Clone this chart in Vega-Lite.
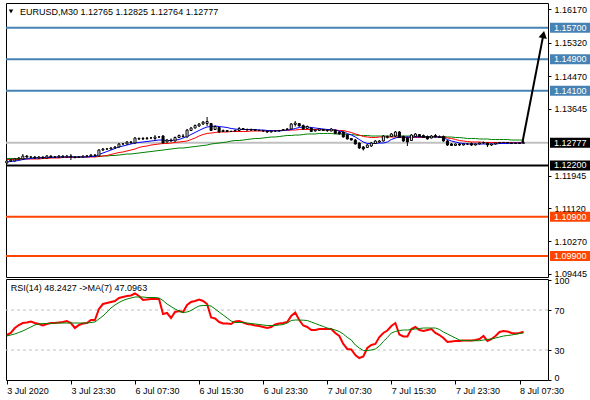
{
  "$schema": "https://vega.github.io/schema/vega-lite/v6.json",
  "background": "white",
  "padding": {"left": 2, "top": 2, "right": 0, "bottom": 0},
  "spacing": 2,
  "bounds": "flush",
  "config": {
    "view": {"stroke": "black", "strokeWidth": 1},
    "font": "Liberation Sans",
    "text": {"font": "Liberation Sans"},
    "scale": {"continuousPadding": 0},
    "axis": {"labelFont": "Liberation Sans", "labelFontSize": 9, "labelColor": "black", "tickColor": "black",
             "domain": false, "grid": false, "labelOverlap": false}
  },
  "datasets": {
    "levels": [
      {"p": 1.157, "k": "res"},
      {"p": 1.149, "k": "res"},
      {"p": 1.141, "k": "res"},
      {"p": 1.122, "k": "pivot"},
      {"p": 1.109, "k": "sup"},
      {"p": 1.099, "k": "sup"},
      {"p": 1.12777, "k": "bid"}
    ],
    "arrow": [
      {"pt": "start", "i": 128.7, "p": 1.12778},
      {"pt": "tip", "i": 133.95, "p": 1.15525}
    ],
    "bars": [
      {"i":0,"o":1.12263,"h":1.12339,"l":1.12238,"c":1.12314,"f":1.12289,"m":1.12352,"s":1.12378,"r":45,"a":44},
      {"i":1,"o":1.12314,"h":1.12365,"l":1.12289,"c":1.12339,"f":1.12301,"m":1.12352,"s":1.12378,"r":47,"a":45},
      {"i":2,"o":1.12314,"h":1.12390,"l":1.12301,"c":1.12365,"f":1.12314,"m":1.12352,"s":1.12378,"r":52,"a":46},
      {"i":3,"o":1.12365,"h":1.12416,"l":1.12339,"c":1.12390,"f":1.12327,"m":1.12352,"s":1.12378,"r":55,"a":47.5},
      {"i":4,"o":1.12365,"h":1.12492,"l":1.12339,"c":1.12441,"f":1.12352,"m":1.12365,"s":1.12378,"r":57,"a":49},
      {"i":5,"o":1.12441,"h":1.12466,"l":1.12390,"c":1.12416,"f":1.12365,"m":1.12365,"s":1.12378,"r":57.5,"a":51},
      {"i":6,"o":1.12416,"h":1.12441,"l":1.12390,"c":1.12416,"f":1.12378,"m":1.12365,"s":1.12390,"r":58.5,"a":53},
      {"i":7,"o":1.12416,"h":1.12441,"l":1.12365,"c":1.12390,"f":1.12390,"m":1.12365,"s":1.12390,"r":57,"a":55},
      {"i":8,"o":1.12390,"h":1.12441,"l":1.12365,"c":1.12416,"f":1.12390,"m":1.12365,"s":1.12390,"r":56,"a":56},
      {"i":9,"o":1.12416,"h":1.12428,"l":1.12365,"c":1.12390,"f":1.12403,"m":1.12378,"s":1.12390,"r":54.5,"a":56.5},
      {"i":10,"o":1.12390,"h":1.12466,"l":1.12365,"c":1.12441,"f":1.12403,"m":1.12378,"s":1.12390,"r":56,"a":56.5},
      {"i":11,"o":1.12441,"h":1.12454,"l":1.12390,"c":1.12416,"f":1.12403,"m":1.12390,"s":1.12403,"r":57,"a":56.5},
      {"i":12,"o":1.12416,"h":1.12441,"l":1.12390,"c":1.12418,"f":1.12416,"m":1.12390,"s":1.12403,"r":57,"a":57},
      {"i":13,"o":1.12416,"h":1.12466,"l":1.12403,"c":1.12441,"f":1.12416,"m":1.12390,"s":1.12403,"r":57.5,"a":57},
      {"i":14,"o":1.12441,"h":1.12454,"l":1.12390,"c":1.12416,"f":1.12416,"m":1.12403,"s":1.12403,"r":58,"a":57},
      {"i":15,"o":1.12416,"h":1.12466,"l":1.12390,"c":1.12441,"f":1.12416,"m":1.12403,"s":1.12403,"r":59,"a":57},
      {"i":16,"o":1.12441,"h":1.12492,"l":1.12339,"c":1.12416,"f":1.12416,"m":1.12403,"s":1.12416,"r":57,"a":57},
      {"i":17,"o":1.12416,"h":1.12441,"l":1.12378,"c":1.12403,"f":1.12416,"m":1.12403,"s":1.12416,"r":52,"a":57},
      {"i":18,"o":1.12403,"h":1.12441,"l":1.12390,"c":1.12416,"f":1.12416,"m":1.12416,"s":1.12416,"r":55,"a":57},
      {"i":19,"o":1.12416,"h":1.12454,"l":1.12403,"c":1.12441,"f":1.12416,"m":1.12416,"s":1.12416,"r":56.5,"a":57},
      {"i":20,"o":1.12441,"h":1.12466,"l":1.12416,"c":1.12443,"f":1.12416,"m":1.12416,"s":1.12416,"r":57,"a":57},
      {"i":21,"o":1.12441,"h":1.12492,"l":1.12416,"c":1.12466,"f":1.12428,"m":1.12416,"s":1.12428,"r":60,"a":57.5},
      {"i":22,"o":1.12466,"h":1.12492,"l":1.12428,"c":1.12454,"f":1.12428,"m":1.12416,"s":1.12428,"r":60,"a":58},
      {"i":23,"o":1.12441,"h":1.12619,"l":1.12428,"c":1.12593,"f":1.12479,"m":1.12428,"s":1.12428,"r":71,"a":61},
      {"i":24,"o":1.12593,"h":1.12644,"l":1.12568,"c":1.12619,"f":1.12517,"m":1.12441,"s":1.12441,"r":76,"a":64},
      {"i":25,"o":1.12619,"h":1.12644,"l":1.12593,"c":1.12621,"f":1.12555,"m":1.12454,"s":1.12441,"r":77,"a":68},
      {"i":26,"o":1.12619,"h":1.12670,"l":1.12606,"c":1.12644,"f":1.12593,"m":1.12479,"s":1.12454,"r":78,"a":72},
      {"i":27,"o":1.12644,"h":1.12695,"l":1.12632,"c":1.12670,"f":1.12632,"m":1.12505,"s":1.12454,"r":79,"a":75},
      {"i":28,"o":1.12670,"h":1.12771,"l":1.12657,"c":1.12746,"f":1.12670,"m":1.12530,"s":1.12466,"r":82,"a":77.5},
      {"i":29,"o":1.12746,"h":1.12771,"l":1.12720,"c":1.12748,"f":1.12695,"m":1.12543,"s":1.12479,"r":83,"a":79.5},
      {"i":30,"o":1.12746,"h":1.12822,"l":1.12733,"c":1.12797,"f":1.12720,"m":1.12568,"s":1.12492,"r":84,"a":81},
      {"i":31,"o":1.12784,"h":1.12822,"l":1.12746,"c":1.12797,"f":1.12746,"m":1.12593,"s":1.12492,"r":84.5,"a":82},
      {"i":32,"o":1.12771,"h":1.12924,"l":1.12758,"c":1.12898,"f":1.12771,"m":1.12619,"s":1.12505,"r":86.5,"a":83},
      {"i":33,"o":1.12886,"h":1.12911,"l":1.12847,"c":1.12873,"f":1.12784,"m":1.12657,"s":1.12517,"r":84,"a":83},
      {"i":34,"o":1.12873,"h":1.12924,"l":1.12847,"c":1.12886,"f":1.12797,"m":1.12682,"s":1.12530,"r":80,"a":83},
      {"i":35,"o":1.12886,"h":1.12924,"l":1.12847,"c":1.12898,"f":1.12809,"m":1.12695,"s":1.12543,"r":80.5,"a":82.5},
      {"i":36,"o":1.12898,"h":1.12924,"l":1.12873,"c":1.12900,"f":1.12822,"m":1.12720,"s":1.12555,"r":81,"a":82.5},
      {"i":37,"o":1.12886,"h":1.12974,"l":1.12822,"c":1.12924,"f":1.12835,"m":1.12733,"s":1.12568,"r":81,"a":82.5},
      {"i":38,"o":1.12924,"h":1.12949,"l":1.12898,"c":1.12926,"f":1.12847,"m":1.12746,"s":1.12581,"r":81,"a":82},
      {"i":39,"o":1.12949,"h":1.12974,"l":1.12758,"c":1.12771,"f":1.12847,"m":1.12758,"s":1.12593,"r":66,"a":79.5},
      {"i":40,"o":1.12797,"h":1.12873,"l":1.12784,"c":1.12847,"f":1.12835,"m":1.12758,"s":1.12606,"r":67,"a":76},
      {"i":41,"o":1.12847,"h":1.12886,"l":1.12809,"c":1.12822,"f":1.12835,"m":1.12771,"s":1.12619,"r":62,"a":73.5},
      {"i":42,"o":1.12822,"h":1.12936,"l":1.12809,"c":1.12911,"f":1.12847,"m":1.12784,"s":1.12632,"r":68,"a":71},
      {"i":43,"o":1.12911,"h":1.12987,"l":1.12898,"c":1.12962,"f":1.12860,"m":1.12797,"s":1.12644,"r":69,"a":69},
      {"i":44,"o":1.12949,"h":1.13000,"l":1.12911,"c":1.12936,"f":1.12898,"m":1.12809,"s":1.12644,"r":68,"a":67.5},
      {"i":45,"o":1.12924,"h":1.13127,"l":1.12911,"c":1.13101,"f":1.12936,"m":1.12822,"s":1.12657,"r":75,"a":68},
      {"i":46,"o":1.13089,"h":1.13178,"l":1.13076,"c":1.13152,"f":1.12987,"m":1.12860,"s":1.12670,"r":78,"a":69.5},
      {"i":47,"o":1.13152,"h":1.13241,"l":1.13139,"c":1.13215,"f":1.13038,"m":1.12898,"s":1.12682,"r":79,"a":72},
      {"i":48,"o":1.13203,"h":1.13279,"l":1.13178,"c":1.13254,"f":1.13089,"m":1.12949,"s":1.12695,"r":80.5,"a":74},
      {"i":49,"o":1.13254,"h":1.13330,"l":1.13228,"c":1.13305,"f":1.13139,"m":1.12987,"s":1.12708,"r":79,"a":74.5},
      {"i":50,"o":1.13266,"h":1.13432,"l":1.13203,"c":1.13317,"f":1.13178,"m":1.13013,"s":1.12720,"r":76,"a":74.5},
      {"i":51,"o":1.13266,"h":1.13279,"l":1.13076,"c":1.13089,"f":1.13190,"m":1.13025,"s":1.12746,"r":62.6,"a":74},
      {"i":52,"o":1.13114,"h":1.13215,"l":1.13101,"c":1.13190,"f":1.13203,"m":1.13038,"s":1.12758,"r":61.5,"a":71},
      {"i":53,"o":1.13165,"h":1.13178,"l":1.13025,"c":1.13051,"f":1.13190,"m":1.13051,"s":1.12771,"r":58,"a":68},
      {"i":54,"o":1.13063,"h":1.13114,"l":1.13051,"c":1.13089,"f":1.13178,"m":1.13051,"s":1.12784,"r":56.6,"a":65},
      {"i":55,"o":1.13089,"h":1.13101,"l":1.13051,"c":1.13063,"f":1.13165,"m":1.13051,"s":1.12797,"r":56.5,"a":62},
      {"i":56,"o":1.13063,"h":1.13089,"l":1.13051,"c":1.13065,"f":1.13139,"m":1.13063,"s":1.12822,"r":56,"a":59},
      {"i":57,"o":1.13076,"h":1.13114,"l":1.13063,"c":1.13089,"f":1.13127,"m":1.13063,"s":1.12835,"r":58.5,"a":57.5},
      {"i":58,"o":1.13089,"h":1.13178,"l":1.13063,"c":1.13139,"f":1.13114,"m":1.13063,"s":1.12835,"r":59,"a":57.5},
      {"i":59,"o":1.13139,"h":1.13152,"l":1.13101,"c":1.13114,"f":1.13114,"m":1.13063,"s":1.12847,"r":57.5,"a":57.5},
      {"i":60,"o":1.13114,"h":1.13139,"l":1.13089,"c":1.13101,"f":1.13114,"m":1.13063,"s":1.12860,"r":56,"a":57},
      {"i":61,"o":1.13101,"h":1.13139,"l":1.13076,"c":1.13114,"f":1.13114,"m":1.13076,"s":1.12873,"r":55.5,"a":56.5},
      {"i":62,"o":1.13114,"h":1.13127,"l":1.13076,"c":1.13089,"f":1.13114,"m":1.13076,"s":1.12886,"r":54.5,"a":56},
      {"i":63,"o":1.13089,"h":1.13114,"l":1.13076,"c":1.13091,"f":1.13101,"m":1.13076,"s":1.12886,"r":54,"a":55.5},
      {"i":64,"o":1.13089,"h":1.13101,"l":1.13051,"c":1.13076,"f":1.13101,"m":1.13076,"s":1.12898,"r":53,"a":55},
      {"i":65,"o":1.13076,"h":1.13089,"l":1.13025,"c":1.13051,"f":1.13089,"m":1.13076,"s":1.12911,"r":52,"a":54.5},
      {"i":66,"o":1.13051,"h":1.13089,"l":1.13038,"c":1.13076,"f":1.13089,"m":1.13076,"s":1.12924,"r":53,"a":54.5},
      {"i":67,"o":1.13076,"h":1.13089,"l":1.13051,"c":1.13078,"f":1.13076,"m":1.13089,"s":1.12924,"r":55.5,"a":54.5},
      {"i":68,"o":1.13076,"h":1.13101,"l":1.13063,"c":1.13089,"f":1.13076,"m":1.13089,"s":1.12936,"r":56.5,"a":55},
      {"i":69,"o":1.13089,"h":1.13127,"l":1.13076,"c":1.13114,"f":1.13089,"m":1.13089,"s":1.12949,"r":57,"a":55.5},
      {"i":70,"o":1.13114,"h":1.13152,"l":1.13101,"c":1.13127,"f":1.13101,"m":1.13089,"s":1.12962,"r":58,"a":57},
      {"i":71,"o":1.13127,"h":1.13279,"l":1.13114,"c":1.13254,"f":1.13114,"m":1.13101,"s":1.12962,"r":64,"a":59.5},
      {"i":72,"o":1.13241,"h":1.13330,"l":1.13190,"c":1.13279,"f":1.13139,"m":1.13101,"s":1.12974,"r":67.5,"a":60},
      {"i":73,"o":1.13266,"h":1.13279,"l":1.13190,"c":1.13203,"f":1.13165,"m":1.13114,"s":1.12974,"r":60,"a":60},
      {"i":74,"o":1.13215,"h":1.13241,"l":1.13101,"c":1.13127,"f":1.13178,"m":1.13114,"s":1.12987,"r":54.5,"a":59.8},
      {"i":75,"o":1.13139,"h":1.13215,"l":1.13127,"c":1.13190,"f":1.13178,"m":1.13114,"s":1.13000,"r":53,"a":59.5},
      {"i":76,"o":1.13152,"h":1.13165,"l":1.13051,"c":1.13063,"f":1.13165,"m":1.13114,"s":1.13000,"r":50,"a":58},
      {"i":77,"o":1.13076,"h":1.13127,"l":1.13063,"c":1.13101,"f":1.13152,"m":1.13114,"s":1.13000,"r":50,"a":56.5},
      {"i":78,"o":1.13089,"h":1.13152,"l":1.13076,"c":1.13127,"f":1.13139,"m":1.13114,"s":1.13013,"r":51,"a":55},
      {"i":79,"o":1.13114,"h":1.13127,"l":1.13076,"c":1.13089,"f":1.13127,"m":1.13101,"s":1.13013,"r":51,"a":53.5},
      {"i":80,"o":1.13101,"h":1.13127,"l":1.13051,"c":1.13089,"f":1.13114,"m":1.13101,"s":1.13013,"r":51,"a":52},
      {"i":81,"o":1.13076,"h":1.13152,"l":1.13070,"c":1.13127,"f":1.13114,"m":1.13101,"s":1.13013,"r":51,"a":51},
      {"i":82,"o":1.13101,"h":1.13110,"l":1.13000,"c":1.13013,"f":1.13101,"m":1.13101,"s":1.13000,"r":47,"a":50},
      {"i":83,"o":1.13051,"h":1.13076,"l":1.12987,"c":1.13000,"f":1.13076,"m":1.13089,"s":1.13000,"r":44,"a":48.5},
      {"i":84,"o":1.13051,"h":1.13063,"l":1.12911,"c":1.12924,"f":1.13051,"m":1.13089,"s":1.13000,"r":36,"a":46},
      {"i":85,"o":1.12974,"h":1.12987,"l":1.12860,"c":1.12873,"f":1.13013,"m":1.13063,"s":1.12987,"r":31,"a":42.6},
      {"i":86,"o":1.12886,"h":1.12898,"l":1.12835,"c":1.12847,"f":1.12974,"m":1.13038,"s":1.12987,"r":30.5,"a":40},
      {"i":87,"o":1.12847,"h":1.12873,"l":1.12733,"c":1.12746,"f":1.12924,"m":1.13000,"s":1.12974,"r":25,"a":35},
      {"i":88,"o":1.12771,"h":1.12784,"l":1.12619,"c":1.12644,"f":1.12860,"m":1.12974,"s":1.12962,"r":22,"a":32},
      {"i":89,"o":1.12670,"h":1.12695,"l":1.12581,"c":1.12619,"f":1.12797,"m":1.12936,"s":1.12962,"r":23.5,"a":29.5},
      {"i":90,"o":1.12657,"h":1.12746,"l":1.12644,"c":1.12720,"f":1.12758,"m":1.12924,"s":1.12962,"r":32,"a":29.5},
      {"i":91,"o":1.12695,"h":1.12797,"l":1.12670,"c":1.12771,"f":1.12758,"m":1.12911,"s":1.12949,"r":35,"a":30},
      {"i":92,"o":1.12758,"h":1.12847,"l":1.12746,"c":1.12822,"f":1.12758,"m":1.12911,"s":1.12949,"r":36,"a":31},
      {"i":93,"o":1.12797,"h":1.12847,"l":1.12771,"c":1.12822,"f":1.12771,"m":1.12924,"s":1.12949,"r":43,"a":34},
      {"i":94,"o":1.12822,"h":1.12974,"l":1.12809,"c":1.12949,"f":1.12771,"m":1.12924,"s":1.12949,"r":47,"a":38.5},
      {"i":95,"o":1.12911,"h":1.12962,"l":1.12886,"c":1.12936,"f":1.12797,"m":1.12924,"s":1.12949,"r":49.5,"a":42.5},
      {"i":96,"o":1.12936,"h":1.13025,"l":1.12924,"c":1.13000,"f":1.12860,"m":1.12924,"s":1.12949,"r":54,"a":47},
      {"i":97,"o":1.12949,"h":1.13076,"l":1.12924,"c":1.13051,"f":1.12898,"m":1.12924,"s":1.12949,"r":57,"a":48.5},
      {"i":98,"o":1.13051,"h":1.13076,"l":1.12898,"c":1.12911,"f":1.12924,"m":1.12911,"s":1.12949,"r":45.5,"a":49.5},
      {"i":99,"o":1.12936,"h":1.12962,"l":1.12797,"c":1.12822,"f":1.12924,"m":1.12911,"s":1.12949,"r":43.5,"a":50},
      {"i":100,"o":1.12898,"h":1.12936,"l":1.12695,"c":1.12797,"f":1.12924,"m":1.12911,"s":1.12949,"r":43.5,"a":50},
      {"i":101,"o":1.12835,"h":1.13000,"l":1.12822,"c":1.12974,"f":1.12924,"m":1.12911,"s":1.12949,"r":51,"a":50.5},
      {"i":102,"o":1.12936,"h":1.13025,"l":1.12924,"c":1.13000,"f":1.12924,"m":1.12911,"s":1.12949,"r":53,"a":51},
      {"i":103,"o":1.12987,"h":1.13000,"l":1.12924,"c":1.12936,"f":1.12924,"m":1.12911,"s":1.12936,"r":50,"a":51.5},
      {"i":104,"o":1.12962,"h":1.12987,"l":1.12898,"c":1.12911,"f":1.12924,"m":1.12911,"s":1.12936,"r":49,"a":52},
      {"i":105,"o":1.12936,"h":1.12962,"l":1.12860,"c":1.12873,"f":1.12924,"m":1.12911,"s":1.12936,"r":50,"a":52},
      {"i":106,"o":1.12898,"h":1.12974,"l":1.12886,"c":1.12949,"f":1.12924,"m":1.12924,"s":1.12936,"r":51,"a":52},
      {"i":107,"o":1.12962,"h":1.13000,"l":1.12911,"c":1.12924,"f":1.12924,"m":1.12924,"s":1.12936,"r":47,"a":52},
      {"i":108,"o":1.12924,"h":1.12962,"l":1.12898,"c":1.12911,"f":1.12924,"m":1.12924,"s":1.12936,"r":45,"a":50.5},
      {"i":109,"o":1.12936,"h":1.12962,"l":1.12809,"c":1.12822,"f":1.12898,"m":1.12924,"s":1.12936,"r":42,"a":48},
      {"i":110,"o":1.12822,"h":1.12847,"l":1.12695,"c":1.12720,"f":1.12860,"m":1.12898,"s":1.12924,"r":38,"a":46},
      {"i":111,"o":1.12746,"h":1.12771,"l":1.12695,"c":1.12708,"f":1.12822,"m":1.12886,"s":1.12924,"r":38.5,"a":44},
      {"i":112,"o":1.12708,"h":1.12758,"l":1.12700,"c":1.12746,"f":1.12797,"m":1.12860,"s":1.12911,"r":39,"a":42},
      {"i":113,"o":1.12746,"h":1.12771,"l":1.12695,"c":1.12720,"f":1.12771,"m":1.12835,"s":1.12911,"r":39,"a":40},
      {"i":114,"o":1.12720,"h":1.12758,"l":1.12708,"c":1.12746,"f":1.12758,"m":1.12822,"s":1.12898,"r":39.5,"a":39.5},
      {"i":115,"o":1.12746,"h":1.12771,"l":1.12720,"c":1.12748,"f":1.12746,"m":1.12809,"s":1.12886,"r":39.5,"a":39.3},
      {"i":116,"o":1.12758,"h":1.12784,"l":1.12695,"c":1.12720,"f":1.12746,"m":1.12797,"s":1.12886,"r":39.5,"a":39.3},
      {"i":117,"o":1.12720,"h":1.12758,"l":1.12708,"c":1.12746,"f":1.12746,"m":1.12797,"s":1.12886,"r":40,"a":39.3},
      {"i":118,"o":1.12746,"h":1.12784,"l":1.12733,"c":1.12771,"f":1.12746,"m":1.12797,"s":1.12873,"r":41,"a":39.3},
      {"i":119,"o":1.12771,"h":1.12809,"l":1.12746,"c":1.12784,"f":1.12746,"m":1.12784,"s":1.12873,"r":44,"a":40},
      {"i":120,"o":1.12771,"h":1.12797,"l":1.12670,"c":1.12720,"f":1.12746,"m":1.12784,"s":1.12873,"r":39,"a":40.5},
      {"i":121,"o":1.12720,"h":1.12758,"l":1.12695,"c":1.12746,"f":1.12746,"m":1.12784,"s":1.12860,"r":41,"a":41},
      {"i":122,"o":1.12746,"h":1.12784,"l":1.12733,"c":1.12771,"f":1.12746,"m":1.12784,"s":1.12860,"r":44,"a":42},
      {"i":123,"o":1.12771,"h":1.12797,"l":1.12746,"c":1.12784,"f":1.12758,"m":1.12784,"s":1.12860,"r":48,"a":43},
      {"i":124,"o":1.12784,"h":1.12797,"l":1.12758,"c":1.12786,"f":1.12758,"m":1.12784,"s":1.12860,"r":49,"a":44},
      {"i":125,"o":1.12784,"h":1.12797,"l":1.12758,"c":1.12771,"f":1.12758,"m":1.12784,"s":1.12860,"r":48.5,"a":44.5},
      {"i":126,"o":1.12771,"h":1.12797,"l":1.12746,"c":1.12758,"f":1.12771,"m":1.12784,"s":1.12847,"r":47,"a":45},
      {"i":127,"o":1.12758,"h":1.12784,"l":1.12746,"c":1.12771,"f":1.12771,"m":1.12784,"s":1.12847,"r":46.5,"a":45.8},
      {"i":128,"o":1.12771,"h":1.12784,"l":1.12746,"c":1.12758,"f":1.12771,"m":1.12784,"s":1.12847,"r":47,"a":46.5},
      {"i":129,"o":1.12765,"h":1.12825,"l":1.12764,"c":1.12777,"f":1.12771,"m":1.12784,"s":1.12847,"r":48.2427,"a":47.0963}
    ]
  },
  "vconcat": [
    {
      "width": 542,
      "height": 274,
      "layer": [
        {
          "data": {"name": "levels"},
          "mark": {"type": "rule"},
          "encoding": {
            "y": {"field": "p", "type": "quantitative",
                  "scale": {"domain": [1.09368, 1.16327], "nice": false, "zero": false, "padding": 0},
                  "axis": {"orient": "right", "values": [1.1617, 1.1532, 1.1447, 1.13645, 1.11945, 1.1112, 1.1027, 1.09445], "format": ".5f", "title": null, "tickSize": 3, "labelPadding": 3, "zindex": 0, "labelFlush": false}},
            "stroke": {"field": "k", "type": "nominal",
                       "scale": {"domain": ["res", "pivot", "sup", "bid"], "range": ["#4682B4", "#000000", "#FF4500", "#C0C0C0"]},
                       "legend": null},
            "strokeWidth": {"field": "k", "type": "nominal",
                            "scale": {"domain": ["res", "pivot", "sup", "bid"], "range": [2, 2, 2, 1]},
                            "legend": null}
          }
        },
        {
          "data": {"name": "bars"},
          "mark": {"type": "line", "stroke": "#008000", "strokeWidth": 1},
          "encoding": {
            "x": {"field": "i", "type": "quantitative", "scale": {"domain": [-0.2, 135.1], "nice": false, "zero": false, "padding": 0}, "axis": null},
            "y": {"field": "s", "type": "quantitative", "axis": {"orient": "right", "values": [1.1617, 1.1532, 1.1447, 1.13645, 1.11945, 1.1112, 1.1027, 1.09445], "format": ".5f", "title": null, "tickSize": 3, "labelPadding": 3, "zindex": 0, "labelFlush": false}}
          }
        },
        {
          "data": {"name": "bars"},
          "mark": {"type": "line", "stroke": "#FF0000", "strokeWidth": 1},
          "encoding": {
            "x": {"field": "i", "type": "quantitative", "axis": null},
            "y": {"field": "m", "type": "quantitative", "axis": {"orient": "right", "values": [1.1617, 1.1532, 1.1447, 1.13645, 1.11945, 1.1112, 1.1027, 1.09445], "format": ".5f", "title": null, "tickSize": 3, "labelPadding": 3, "zindex": 0, "labelFlush": false}}
          }
        },
        {
          "data": {"name": "bars"},
          "mark": {"type": "line", "stroke": "#0000FF", "strokeWidth": 1},
          "encoding": {
            "x": {"field": "i", "type": "quantitative", "axis": null},
            "y": {"field": "f", "type": "quantitative", "axis": {"orient": "right", "values": [1.1617, 1.1532, 1.1447, 1.13645, 1.11945, 1.1112, 1.1027, 1.09445], "format": ".5f", "title": null, "tickSize": 3, "labelPadding": 3, "zindex": 0, "labelFlush": false}}
          }
        },
        {
          "data": {"name": "bars"},
          "mark": {"type": "rule", "stroke": "black", "strokeWidth": 1},
          "encoding": {
            "x": {"field": "i", "type": "quantitative", "axis": null},
            "y": {"field": "h", "type": "quantitative", "axis": {"orient": "right", "values": [1.1617, 1.1532, 1.1447, 1.13645, 1.11945, 1.1112, 1.1027, 1.09445], "format": ".5f", "title": null, "tickSize": 3, "labelPadding": 3, "zindex": 0, "labelFlush": false}},
            "y2": {"field": "l"}
          }
        },
        {
          "data": {"name": "bars"},
          "mark": {"type": "bar", "size": 2, "stroke": "black", "strokeWidth": 1},
          "encoding": {
            "x": {"field": "i", "type": "quantitative", "axis": null},
            "y": {"field": "o", "type": "quantitative", "axis": {"orient": "right", "values": [1.1617, 1.1532, 1.1447, 1.13645, 1.11945, 1.1112, 1.1027, 1.09445], "format": ".5f", "title": null, "tickSize": 3, "labelPadding": 3, "zindex": 0, "labelFlush": false}},
            "y2": {"field": "c"},
            "fill": {"condition": {"test": "datum.c >= datum.o", "value": "white"}, "value": "black"}
          }
        },
        {
          "data": {"name": "arrow"},
          "mark": {"type": "line", "stroke": "black", "strokeWidth": 2},
          "encoding": {
            "x": {"field": "i", "type": "quantitative", "axis": null},
            "y": {"field": "p", "type": "quantitative", "axis": {"orient": "right", "values": [1.1617, 1.1532, 1.1447, 1.13645, 1.11945, 1.1112, 1.1027, 1.09445], "format": ".5f", "title": null, "tickSize": 3, "labelPadding": 3, "zindex": 0, "labelFlush": false}}
          }
        },
        {
          "data": {"name": "arrow"},
          "transform": [{"filter": "datum.pt == 'tip'"}],
          "mark": {"type": "point", "shape": "triangle-up", "angle": 11, "size": 70, "filled": true, "color": "black", "opacity": 1},
          "encoding": {
            "x": {"field": "i", "type": "quantitative", "axis": null},
            "y": {"field": "p", "type": "quantitative", "axis": {"orient": "right", "values": [1.1617, 1.1532, 1.1447, 1.13645, 1.11945, 1.1112, 1.1027, 1.09445], "format": ".5f", "title": null, "tickSize": 3, "labelPadding": 3, "zindex": 0, "labelFlush": false}}
          }
        },
        {
          "data": {"name": "levels"},
          "mark": {"type": "bar", "orient": "horizontal", "size": 10},
          "encoding": {
            "x": {"datum": 135.6, "type": "quantitative", "axis": null},
            "x2": {"datum": 146.5},
            "y": {"field": "p", "type": "quantitative", "axis": {"orient": "right", "values": [1.1617, 1.1532, 1.1447, 1.13645, 1.11945, 1.1112, 1.1027, 1.09445], "format": ".5f", "title": null, "tickSize": 3, "labelPadding": 3, "zindex": 0, "labelFlush": false}},
            "fill": {"field": "k", "type": "nominal",
                     "scale": {"domain": ["res", "pivot", "sup", "bid"], "range": ["#4682B4", "#000000", "#FF4500", "#000000"]},
                     "legend": null}
          }
        },
        {
          "data": {"name": "levels"},
          "mark": {"type": "text", "align": "left", "baseline": "middle", "color": "white", "fontSize": 9, "font": "Liberation Sans"},
          "encoding": {
            "x": {"datum": 136.6, "type": "quantitative", "axis": null},
            "y": {"field": "p", "type": "quantitative", "axis": {"orient": "right", "values": [1.1617, 1.1532, 1.1447, 1.13645, 1.11945, 1.1112, 1.1027, 1.09445], "format": ".5f", "title": null, "tickSize": 3, "labelPadding": 3, "zindex": 0, "labelFlush": false}},
            "text": {"field": "p", "type": "quantitative", "format": ".5f"}
          }
        },
        {
          "data": {"values": [{"sym": "menu"}]},
          "mark": {"type": "point", "shape": "triangle-down", "size": 20, "filled": true, "color": "black", "opacity": 1},
          "encoding": {
            "x": {"datum": 1.05, "type": "quantitative", "axis": null},
            "y": {"datum": 1.16111, "type": "quantitative", "axis": {"orient": "right", "values": [1.1617, 1.1532, 1.1447, 1.13645, 1.11945, 1.1112, 1.1027, 1.09445], "format": ".5f", "title": null, "tickSize": 3, "labelPadding": 3, "zindex": 0, "labelFlush": false}}
          }
        },
        {
          "data": {"values": [{"label": "EURUSD,M30  1.12765 1.12825 1.12764 1.12777"}]},
          "mark": {"type": "text", "align": "left", "baseline": "middle", "color": "black", "fontSize": 9, "font": "Liberation Sans"},
          "encoding": {
            "x": {"datum": 3.3, "type": "quantitative", "axis": null},
            "y": {"datum": 1.16099, "type": "quantitative", "axis": {"orient": "right", "values": [1.1617, 1.1532, 1.1447, 1.13645, 1.11945, 1.1112, 1.1027, 1.09445], "format": ".5f", "title": null, "tickSize": 3, "labelPadding": 3, "zindex": 0, "labelFlush": false}},
            "text": {"field": "label", "type": "nominal"}
          }
        }
      ]
    },
    {
      "width": 542,
      "height": 101,
      "layer": [
        {
          "data": {"values": [{"lv": 30}, {"lv": 70}]},
          "mark": {"type": "rule", "stroke": "#C0C0C0", "strokeDash": [3, 3], "strokeWidth": 1},
          "encoding": {
            "y": {"field": "lv", "type": "quantitative", "scale": {"domain": [0, 101], "nice": false, "zero": false, "padding": 0},
                  "axis": {"orient": "right", "values": [0, 30, 70, 100], "title": null, "tickSize": 3, "labelPadding": 3, "labelFlush": true, "labelFlushOffset": 2}}
          }
        },
        {
          "data": {"name": "bars"},
          "mark": {"type": "line", "stroke": "#FF0000", "strokeWidth": 2},
          "encoding": {
            "x": {"field": "i", "type": "quantitative", "scale": {"domain": [-0.2, 135.1], "nice": false, "zero": false, "padding": 0},
                  "axis": {"orient": "bottom", "values": [0, 16, 32, 48, 64, 80, 96, 112, 128], "labelExpr": "['3 Jul 2020','3 Jul 23:30','6 Jul 07:30','6 Jul 15:30','6 Jul 23:30','7 Jul 07:30','7 Jul 15:30','7 Jul 23:30','8 Jul 07:30'][round(datum.value/16)]", "title": null, "tickSize": 4, "labelAlign": "left", "labelBaseline": "top", "labelPadding": 2, "labelFlush": false, "labelBound": false}},
            "y": {"field": "r", "type": "quantitative",
                  "axis": {"orient": "right", "values": [0, 30, 70, 100], "title": null, "tickSize": 3, "labelPadding": 3, "labelFlush": true, "labelFlushOffset": 2}}
          }
        },
        {
          "data": {"name": "bars"},
          "mark": {"type": "line", "stroke": "#008000", "strokeWidth": 1},
          "encoding": {
            "x": {"field": "i", "type": "quantitative",
                  "axis": {"orient": "bottom", "values": [0, 16, 32, 48, 64, 80, 96, 112, 128], "labelExpr": "['3 Jul 2020','3 Jul 23:30','6 Jul 07:30','6 Jul 15:30','6 Jul 23:30','7 Jul 07:30','7 Jul 15:30','7 Jul 23:30','8 Jul 07:30'][round(datum.value/16)]", "title": null, "tickSize": 4, "labelAlign": "left", "labelBaseline": "top", "labelPadding": 2, "labelFlush": false, "labelBound": false}},
            "y": {"field": "a", "type": "quantitative",
                  "axis": {"orient": "right", "values": [0, 30, 70, 100], "title": null, "tickSize": 3, "labelPadding": 3, "labelFlush": true, "labelFlushOffset": 2}}
          }
        },
        {
          "data": {"values": [{"label": "RSI(14) 48.2427  ->MA(7) 47.0963"}]},
          "mark": {"type": "text", "align": "left", "baseline": "middle", "color": "black", "fontSize": 9, "font": "Liberation Sans"},
          "encoding": {
            "x": {"datum": 1.0, "type": "quantitative",
                  "axis": {"orient": "bottom", "values": [0, 16, 32, 48, 64, 80, 96, 112, 128], "labelExpr": "['3 Jul 2020','3 Jul 23:30','6 Jul 07:30','6 Jul 15:30','6 Jul 23:30','7 Jul 07:30','7 Jul 15:30','7 Jul 23:30','8 Jul 07:30'][round(datum.value/16)]", "title": null, "tickSize": 4, "labelAlign": "left", "labelBaseline": "top", "labelPadding": 2, "labelFlush": false, "labelBound": false}},
            "y": {"datum": 92.3, "type": "quantitative",
                  "axis": {"orient": "right", "values": [0, 30, 70, 100], "title": null, "tickSize": 3, "labelPadding": 3, "labelFlush": true, "labelFlushOffset": 2}},
            "text": {"field": "label", "type": "nominal"}
          }
        }
      ]
    }
  ]
}
